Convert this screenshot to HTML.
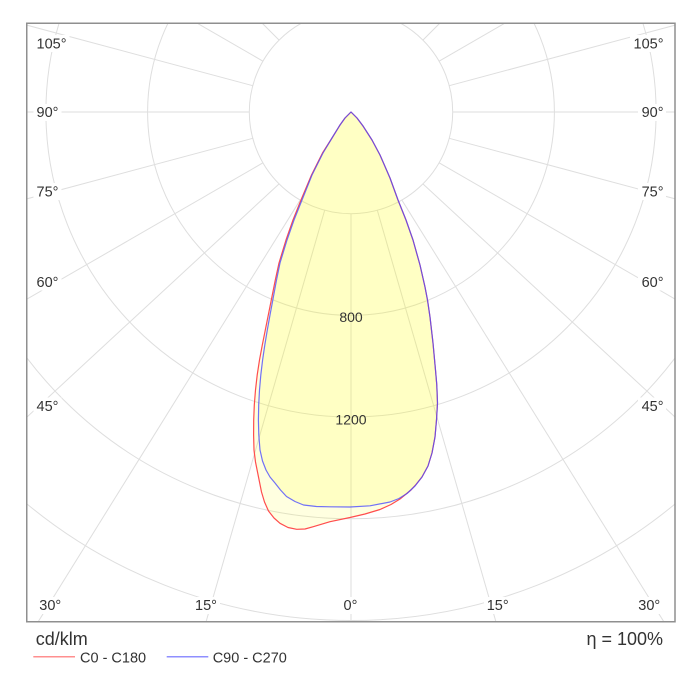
<!DOCTYPE html>
<html>
<head>
<meta charset="utf-8">
<style>
html,body{margin:0;padding:0;background:#fff;}
svg{display:block;}
text{font-family:"Liberation Sans",Arial,sans-serif;fill:#333;}
</style>
</head>
<body>
<svg width="700" height="700" viewBox="0 0 700 700" xmlns="http://www.w3.org/2000/svg">
<defs>
<clipPath id="frame"><rect x="27" y="23.5" width="648" height="598"/></clipPath>
</defs>
<rect x="0" y="0" width="700" height="700" fill="#fff"/>
<g clip-path="url(#frame)" fill="none" stroke="#dedede" stroke-width="1">
  <circle cx="351" cy="112" r="101.7"/>
  <circle cx="351" cy="112" r="203.4"/>
  <circle cx="351" cy="112" r="305.1"/>
  <circle cx="351" cy="112" r="406.8"/>
  <circle cx="351" cy="112" r="508.5"/>
  <line x1="351" y1="213.7" x2="351" y2="700"/>
  <line x1="324.68" y1="210.24" x2="206" y2="622"/>
  <line x1="377.32" y1="210.24" x2="496" y2="622"/>
  <line x1="300.15" y1="200.07" x2="38" y2="622"/>
  <line x1="401.85" y1="200.07" x2="664" y2="622"/>
  <line x1="279.09" y1="183.91" x2="27" y2="417"/>
  <line x1="422.91" y1="183.91" x2="675" y2="417"/>
  <line x1="262.93" y1="162.85" x2="-428.4" y2="562"/>
  <line x1="439.07" y1="162.85" x2="1130.4" y2="562"/>
  <line x1="252.76" y1="138.32" x2="-518.3" y2="344.9"/>
  <line x1="449.24" y1="138.32" x2="1220.3" y2="344.9"/>
  <line x1="249.3" y1="112" x2="-549" y2="112"/>
  <line x1="452.7" y1="112" x2="1251" y2="112"/>
  <line x1="252.76" y1="85.68" x2="-518.3" y2="-120.9"/>
  <line x1="449.24" y1="85.68" x2="1220.3" y2="-120.9"/>
  <line x1="262.93" y1="61.15" x2="-428.4" y2="-338"/>
  <line x1="439.07" y1="61.15" x2="1130.4" y2="-338"/>
  <line x1="279.09" y1="40.09" x2="-285.4" y2="-524.4"/>
  <line x1="422.91" y1="40.09" x2="987.4" y2="-524.4"/>
  <line x1="300.15" y1="23.93" x2="-99" y2="-667"/>
  <line x1="401.85" y1="23.93" x2="801" y2="-667"/>
</g>

<g clip-path="url(#frame)">
<polygon fill="#ffff00" fill-opacity="0.12" points="351,112 345,118 340,125 332,138 322.5,153 311.5,175 301,200 293,220 286,240 279,263 275.3,280 271.3,300 268.3,315 265.3,330 262.3,345 259.5,360 257.2,375 255.5,390 254.3,405 253.7,420 253.6,435 254,450 255.5,462 257.5,472 259.5,482 261.5,492 264.5,502 268.5,511 274,518 280,523.3 288,527.5 296.7,529.3 305,529 313.3,526.7 330,521.7 350,517.5 365,514 380,509.5 391,504.5 400,499 411,490 416,484.5 422,477 428,466 432,453 435,437 436.5,420 437.5,403 436.8,385 435.5,370 433,343 430,317 427.5,300 425,287 420,265 413,240 406,220 398,200 390,178 380,155 372,140 363,126 357,118 351,112"/>
<polygon fill="#ffff00" fill-opacity="0.12" points="351,112 345,118 340,125 332,138 323,153 312,175 302,200 294,220 287,240 280,263 276.5,280 272.8,300 270,315 267.3,330 264.8,345 262.6,360 260.8,375 259.5,390 258.7,405 258.4,420 258.8,435 260,450 262.5,461 266,470 270,477 275,483 280.5,490 286.5,496.5 295,501.5 303.5,505 316.5,506.5 330,506.8 350,507 370,505.8 390,502 399,498.5 407,493.5 415,486 422,477 428,466 432,453 435,437 436.5,420 437.5,403 436.8,385 435.5,370 433,343 430,317 427.5,300 425,287 420,265 413,240 406,220 398,200 390,178 380,155 372,140 363,126 357,118 351,112"/>
<polygon fill="none" stroke="#ff4d4d" stroke-width="1.2" stroke-linejoin="round" points="351,112 345,118 340,125 332,138 322.5,153 311.5,175 301,200 293,220 286,240 279,263 275.3,280 271.3,300 268.3,315 265.3,330 262.3,345 259.5,360 257.2,375 255.5,390 254.3,405 253.7,420 253.6,435 254,450 255.5,462 257.5,472 259.5,482 261.5,492 264.5,502 268.5,511 274,518 280,523.3 288,527.5 296.7,529.3 305,529 313.3,526.7 330,521.7 350,517.5 365,514 380,509.5 391,504.5 400,499 411,490 416,484.5 422,477 428,466 432,453 435,437 436.5,420 437.5,403 436.8,385 435.5,370 433,343 430,317 427.5,300 425,287 420,265 413,240 406,220 398,200 390,178 380,155 372,140 363,126 357,118 351,112"/>
<polygon fill="none" stroke="#4d4dff" stroke-opacity="0.8" stroke-width="1.2" stroke-linejoin="round" points="351,112 345,118 340,125 332,138 323,153 312,175 302,200 294,220 287,240 280,263 276.5,280 272.8,300 270,315 267.3,330 264.8,345 262.6,360 260.8,375 259.5,390 258.7,405 258.4,420 258.8,435 260,450 262.5,461 266,470 270,477 275,483 280.5,490 286.5,496.5 295,501.5 303.5,505 316.5,506.5 330,506.8 350,507 370,505.8 390,502 399,498.5 407,493.5 415,486 422,477 428,466 432,453 435,437 436.5,420 437.5,403 436.8,385 435.5,370 433,343 430,317 427.5,300 425,287 420,265 413,240 406,220 398,200 390,178 380,155 372,140 363,126 357,118 351,112"/>
</g>

<text x="351" y="322" font-size="14" text-anchor="middle">800</text>
<text x="351" y="424.7" font-size="14" text-anchor="middle">1200</text>

<g fill="#fff">
  <rect x="33.5" y="35" width="36" height="17"/>
  <rect x="33.5" y="104" width="28" height="17"/>
  <rect x="33.5" y="183" width="28" height="17"/>
  <rect x="33.5" y="273.5" width="28" height="17"/>
  <rect x="33.5" y="397.5" width="28" height="17"/>
  <rect x="36" y="597" width="28" height="17"/>
  <rect x="192" y="597" width="28" height="17"/>
  <rect x="341" y="597" width="20" height="17"/>
  <rect x="484" y="597" width="28" height="17"/>
  <rect x="635" y="597" width="28" height="17"/>
  <rect x="630" y="35" width="36" height="17"/>
  <rect x="638" y="104" width="28" height="17"/>
  <rect x="638" y="183" width="28" height="17"/>
  <rect x="638" y="273.5" width="28" height="17"/>
  <rect x="638" y="397.5" width="28" height="17"/>
</g>

<g font-size="14.5">
  <text x="36.5" y="48.5">105°</text>
  <text x="36.5" y="117.2">90°</text>
  <text x="36.5" y="196.5">75°</text>
  <text x="36.5" y="287">60°</text>
  <text x="36.5" y="411.2">45°</text>
  <text x="39.3" y="610.2">30°</text>
  <text x="195" y="610.2">15°</text>
  <text x="343.5" y="610.2">0°</text>
  <text x="486.7" y="610.2">15°</text>
  <text x="638.3" y="610.2">30°</text>
  <text x="663.5" y="48.5" text-anchor="end">105°</text>
  <text x="663.5" y="117.2" text-anchor="end">90°</text>
  <text x="663.5" y="196.5" text-anchor="end">75°</text>
  <text x="663.5" y="287" text-anchor="end">60°</text>
  <text x="663.5" y="411.2" text-anchor="end">45°</text>
</g>

<rect x="26.75" y="23.25" width="648.25" height="598.5" fill="none" stroke="#8f8f8f" stroke-width="1.5"/>

<text x="35.7" y="645" font-size="18">cd/klm</text>
<text x="663" y="645" font-size="18" text-anchor="end">η = 100%</text>
<line x1="33.3" y1="656.7" x2="75" y2="656.7" stroke="#ff8f8f" stroke-width="1.5"/>
<text x="80" y="662.5" font-size="14.5">C0 - C180</text>
<line x1="166.7" y1="656.7" x2="208.3" y2="656.7" stroke="#8f8fff" stroke-width="1.5"/>
<text x="212.7" y="662.5" font-size="14.5">C90 - C270</text>
</svg>
</body>
</html>
